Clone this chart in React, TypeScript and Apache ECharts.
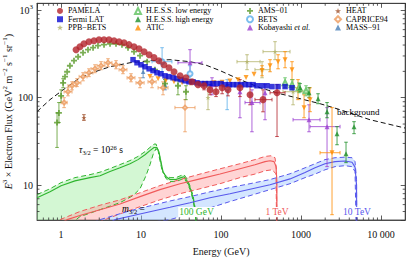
import React, { useEffect, useRef } from "react";
import * as echarts from "echarts";

const SERIF = '"Liberation Serif", "Times New Roman", serif';

const xMin = 0.5, xMax = 20000, yMin = 4, yMax = 1200;
const xMinorTicks = [0.6,0.7,0.8,0.9,2,3,4,5,6,7,8,9,20,30,40,50,60,70,80,90,200,300,400,500,600,700,800,900,2000,3000,4000,5000,6000,7000,8000,9000];
const yMinorTicks = [5,6,7,8,9,20,30,40,50,60,70,80,90,200,300,400,500,600,700,800,900];

// rows: [E, F] or [E, F, Flo, Fhi] or [E, F, Flo, Fhi, Elo, Ehi]
const pamela = [[1.54,354],[1.72,383],[1.93,414],[2.23,437],[2.58,448],[2.98,460],[3.44,460],[3.97,460],[4.59,448],[5.30,437],[6.12,425],[7.06,404],[8.16,383],[9.42,363],[10.9,336],[12.6,310],[14.5,287],[16.7,265],[19.3,238],[22.3,220],[25.8,198],[30.7,178],[36.4,169],[43.3,152],[51.5,141],[61.2,137,123,152],[72.7,123,108,141],[86.4,117,103,134],[103,130,111,148],[122,123,105,141],[172,130,103,161],[230,108,83,134],[334,95,69,123,265,433],[500,114,36,141,409,630]];
const fermi = [[7.93,272],[8.89,251],[9.98,238],[11.2,226],[12.6,214],[14.1,204],[15.8,193],[17.7,188],[19.9,178],[22.3,174],[25.1,169],[28.1,165],[31.6,161],[35.4,156],[39.7,152],[44.6,152],[50.0,148],[56.1,145],[63,145],[70.6,145],[79.3,145],[88.9,145],[99.8,145],[112,141],[126,141],[141,141],[158,141],[177,141],[199,141],[223,141],[251,141],[281,137],[325,137],[375,137],[433,134],[515,134],[630,134],[770,130]];
const ppbBets = [[68.6,100,73,134],[211,258,209,310,158,307],[325,209,169,258,265,409],[472,336,272,437,334,727],[793,117,83,161,594,1057]];
const hessLow = [[630,148,130,169],[770,141,123,161],[942,130,114,148],[1152,120,105,137]];
const hessHigh = [[970,130,117,145],[1256,114,100,130],[1628,97.5,85.4,111],[2109,69.2,59,88],[2812,38.8,29,46.7],[3643,22.9,18.1,31],[4587,46.7,38.8,53.2]];
const atic = [[12.9,175],[16.3,165],[20.5,158],[25.8,152],[32.5,148],[40.9,145],[51.5,145],[64.8,145],[81.5,148],[103,150],[129,155],[163,160],[205,170],[258,185],[325,204,178,232],[409,232,198,272],[515,258,214,310],[630,272,220,336],[770,209,161,258],[915,123,95,161],[1088,77,59,108],[1293,95,69.2,130],[2435,23.5,4.6,77,1724,3066]];
const ams01 = [[0.89,52,27,67],[0.94,67,52,88],[1.0,105,88,123],[1.06,148,130,165],[1.12,174],[1.19,198],[1.29,232],[1.45,265],[1.63,294],[1.88,327],[2.17,354],[2.51,373],[2.89,393],[3.44,404],[4.09,414],[4.86,414],[5.77,404],[6.86,373],[8.16,336],[9.70,302],[11.9,258],[14.9,209],[19.9,145,130,161],[28.9,137,108,161],[36.4,117,95,137]];
const bets = [[18.3,258,198,373,13.7,24.3],[40.9,188,152,232],[119,130,73,161]];
const kobayashi = [[40.9,251,183,354,28.9,57.7],[77,141,108,169],[172,117,59,145],[243,88,40.8,123,199,307],[354,114,56,141],[1256,56,40.8,83,793,1724],[2109,46.7,16.3,77,1293,3066]];
const heat = [[1.93,59,55,64]];
const caprice94 = [[1.09,88,77,100,1.0,1.19],[1.22,117,105,130,1.09,1.37],[1.37,137,123,152,1.22,1.54],[1.58,148,134,165,1.41,1.77],[1.88,174,156,193,1.68,2.11],[2.23,193,174,214,1.99,2.50],[2.65,214,193,238,2.37,2.97],[3.16,232,209,258,2.82,3.54],[3.86,251,226,279,3.45,4.32],[4.86,238,214,265,4.34,5.44],[5.94,209,188,232,5.30,6.65],[7.48,169,152,188,6.68,8.38],[9.70,148,130,169,8.64,10.9],[13.7,152,130,174,12.2,15.4],[18.8,130,108,152,16.3,21.7],[35.4,77,40.8,95,26.5,47.2]];
const mass91 = [[10.6,198,169,232],[19.9,141,123,161]];

const background = [[0.5,69.2],[0.727,95],[1.06,123],[1.72,169],[2.65,198],[4.09,226],[7.27,251],[12.9,265],[23.0,272],[40.9,258],[63,238],[97,204],[172,161],[307,130],[545,111],[970,97.5],[1724,85.4],[3066,73],[7270,56],[19900,45]];

// gravitino decay spectra, m = 100 GeV, 1 TeV, 10 TeV
const greenSolid = [[0.5,7.2],[0.727,8.43],[1.0,9.87],[1.49,11.2],[2.30,12.2],[3.07,12.8],[4.09,14.3],[5.45,15.8],[7.27,17.6],[9.15,19.6],[11.2,22.3],[12.9,24.8],[14.5,27],[15.8,27],[16.7,24.2],[17.7,18.6],[18.8,14.3],[20.5,12.5],[23.0,11.6],[27.3,11.6],[31.6,12.2],[34.4,12.5],[37.5,11.2],[40.9,9.36],[44.6,7.2],[47.2,5.25],[48.6,3.83],[49.6,1]];
const greenUpper = [[0.5,7.8],[0.727,9.1],[1.0,10.7],[1.49,12.2],[2.30,13.2],[3.07,14.1],[4.09,15.5],[5.45,17.2],[7.27,19.1],[9.15,21.3],[11.2,24.2],[12.9,27],[14.5,29.5],[15.4,29.5],[16.3,25],[17.2,19],[18.3,14.8],[19.9,13.0],[23.0,12.2],[27.3,12.2],[31.6,12.9],[34.4,13.2],[37.5,11.8],[40.9,9.8],[44.6,7.6],[47.2,5.6],[48.6,4.2],[49.6,1]];
const greenLower = [[0.5,2.0],[1.0,2.9],[1.29,3.54],[1.72,4.37],[3.07,5.25],[5.45,6.31],[7.93,7.6],[9.70,9.1],[11.5,12.8],[12.9,17.1],[14.1,22.3],[15.4,26.3],[16.7,23.6],[17.7,18.1],[18.8,13.9],[20.5,11.9],[23.0,11.0],[27.3,11.0],[31.6,11.6],[34.4,11.9],[37.5,10.7],[40.9,8.9],[44.6,6.8],[47.2,4.98],[48.6,3.83],[49.6,1]];
const redSolid = [[1.0,3.7],[1.19,4.04],[1.72,4.5],[3.07,5.25],[5.45,6.1],[9.7,7.4],[17.2,8.9],[30.7,10.4],[54.5,11.8],[97,13.4],[172,15.4],[265,17.1],[354,18.6],[409,19.0],[459,18.6],[486,16.3],[498,11],[500,1]];
const redUpper = [[0.8,3.6],[0.97,4.04],[1.72,5.0],[3.07,5.9],[5.45,6.8],[9.7,8.2],[17.2,9.9],[30.7,11.6],[54.5,13.4],[97,15.4],[172,17.6],[265,19.6],[354,21.3],[421,21.7],[472,20.6],[493,15],[500,1]];
const redLower = [[1.0,2.5],[3.07,3.83],[5.45,4.7],[9.7,5.68],[17.2,6.8],[30.7,8.0],[54.5,9.1],[97,10.4],[172,12.2],[265,13.4],[354,14.6],[433,15.0],[486,13.5],[500,1]];
const blueSolid = [[4.0,3.7],[4.72,4.04],[7.27,4.42],[12.9,4.98],[23.0,5.6],[40.9,6.3],[72.7,7.2],[129,8.0],[230,9.0],[409,10.1],[727,11.8],[1120,14.0],[1493,15.8],[1990,17.6],[2655,18.6],[3540,18.9],[4330,18.3],[4720,16.1],[4930,10.1],[5000,1]];
const blueUpper = [[2.5,3.7],[3.07,4.04],[7.27,5.1],[12.9,5.8],[23.0,6.6],[40.9,7.4],[72.7,8.4],[129,9.4],[230,10.4],[409,11.6],[727,13.5],[1120,15.8],[1493,17.6],[1990,19.6],[2655,20.6],[3540,20.9],[4330,20.6],[4720,18.6],[4930,11.6],[5000,1]];
const blueLower = [[3.07,3.1],[23.0,4.04],[40.9,4.7],[72.7,5.5],[129,6.5],[230,7.6],[409,8.9],[727,10.4],[1120,12.2],[1493,13.4],[1990,15.0],[2655,16.3],[3540,16.7],[4330,16.3],[4720,14.3],[5000,1]];

const STAR = "path://M0,-10L2.35,-3.24L9.51,-3.09L3.8,1.24L5.88,8.09L0,4L-5.88,8.09L-3.8,1.24L-9.51,-3.09L-2.35,-3.24Z";
const PLUS = "path://M-3,-10H3V-3H10V3H3V10H-3V3H-10V-3H-3Z";

const datasets = [
  { name: "MASS−91", rows: mass91, color: "#4a7fb8", symbol: "triangle", size: 4.5 },
  { name: "CAPRICE94", rows: caprice94, color: "#ec9a5c", symbol: "emptyDiamond", size: 4 },
  { name: "HEAT", rows: heat, color: "#a0522d", symbol: STAR, size: 5 },
  { name: "Kobayashi et al.", rows: kobayashi, color: "#9b3fd0", symbol: "triangle", size: 5 },
  { name: "BETS", rows: bets, color: "#5aaeea", symbol: "emptyCircle", size: 5 },
  { name: "PPB−BETS", rows: ppbBets, color: "#b3b36a", symbol: STAR, size: 5 },
  { name: "AMS−01", rows: ams01, color: "#5a9a2a", symbol: PLUS, size: 6 },
  { name: "ATIC", rows: atic, color: "#ff8c00", symbol: "triangle", size: 5, rotate: 180 },
  { name: "H.E.S.S. low energy", rows: hessLow, color: "#5cc05c", symbol: "emptyTriangle", size: 5 },
  { name: "H.E.S.S. high energy", rows: hessHigh, color: "#1f8f2a", symbol: "triangle", size: 5 },
  { name: "Fermi LAT", rows: fermi, color: "#0a0ad2", symbol: "rect", size: 5.5 },
  { name: "PAMELA", rows: pamela, color: "#b3232b", symbol: "circle", size: 7 },
];

function errorRender(color: string) {
  return (params: any, api: any) => {
    const x = api.value(0), y = api.value(1);
    const c = api.coord([x, y]);
    const lo = api.coord([x, api.value(2)]);
    const hi = api.coord([x, api.value(3)]);
    const l = api.coord([api.value(4), y]);
    const r = api.coord([api.value(5), y]);
    const st = { stroke: color, lineWidth: 0.8 };
    const cap = 1.8;
    const ch: any[] = [];
    if (Math.abs(lo[1] - hi[1]) > 1) {
      ch.push({ type: "line", shape: { x1: c[0], y1: lo[1], x2: c[0], y2: hi[1] }, style: st });
      ch.push({ type: "line", shape: { x1: c[0] - cap, y1: lo[1], x2: c[0] + cap, y2: lo[1] }, style: st });
      ch.push({ type: "line", shape: { x1: c[0] - cap, y1: hi[1], x2: c[0] + cap, y2: hi[1] }, style: st });
    }
    if (Math.abs(r[0] - l[0]) > 1) {
      ch.push({ type: "line", shape: { x1: l[0], y1: c[1], x2: r[0], y2: c[1] }, style: st });
      ch.push({ type: "line", shape: { x1: l[0], y1: c[1] - cap, x2: l[0], y2: c[1] + cap }, style: st });
      ch.push({ type: "line", shape: { x1: r[0], y1: c[1] - cap, x2: r[0], y2: c[1] + cap }, style: st });
    }
    return { type: "group", children: ch };
  };
}

function bandSeries(upper: number[][], lower: number[][], fill: string) {
  return {
    type: "custom", coordinateSystem: "cartesian2d", silent: true, z: 1, clip: true,
    data: [[upper[0][0], upper[0][1]]],
    renderItem: (params: any, api: any) => {
      const pts = upper.map((p) => api.coord(p)).concat(lower.slice().reverse().map((p) => api.coord(p)));
      return { type: "polygon", shape: { points: pts }, style: { fill } };
    },
  };
}

function lineSeries(data: number[][], color: string, dashed: boolean, width: number, z: number) {
  return {
    type: "line", data, showSymbol: false, symbol: "none", silent: true, z, clip: true,
    lineStyle: { color, width, type: dashed ? [5, 3] : "solid" },
  };
}

function buildOption(): any {
  const series: any[] = [];
  series.push(bandSeries(greenUpper, greenLower, "rgba(150,235,150,0.42)"));
  series.push(bandSeries(redUpper, redLower, "rgba(255,160,160,0.45)"));
  series.push(bandSeries(blueUpper, blueLower, "rgba(160,200,255,0.45)"));
  const G = "#2fb52f", R = "#f05a5a", B = "#5858ec";
  series.push(lineSeries(greenUpper, G, true, 1, 2));
  series.push(lineSeries(greenLower, G, true, 1, 2));
  series.push(lineSeries(greenSolid, G, false, 1.1, 2));
  series.push(lineSeries(redUpper, R, true, 1, 2));
  series.push(lineSeries(redLower, R, true, 1, 2));
  series.push(lineSeries(redSolid, R, false, 1.1, 2));
  series.push(lineSeries(blueUpper, B, true, 1, 2));
  series.push(lineSeries(blueLower, B, true, 1, 2));
  series.push(lineSeries(blueSolid, B, false, 1.1, 2));
  series.push(lineSeries(background, "#111", true, 1, 3));

  datasets.forEach((d, i) => {
    const errRows = d.rows.filter((r) => r.length > 2).map((r) => [r[0], r[1], r[2], r[3], r.length > 4 ? r[4] : r[0], r.length > 5 ? r[5] : r[0]]);
    if (errRows.length) {
      series.push({
        type: "custom", name: d.name + " errors", coordinateSystem: "cartesian2d", silent: true,
        z: 4, clip: true, data: errRows, renderItem: errorRender(d.color),
      });
    }
    series.push({
      type: "scatter", name: d.name, data: d.rows.map((r) => [r[0], r[1]]),
      symbol: d.symbol, symbolSize: d.size, symbolRotate: (d as any).rotate || 0,
      itemStyle: { color: d.color, borderColor: d.color, borderWidth: d.symbol.startsWith("empty") ? 1 : 0 },
      z: 5 + i * 0.01, clip: true, silent: true,
    });
  });

  const tickStyle = { stroke: "#333", lineWidth: 0.8 };
  series.push({
    type: "custom", coordinateSystem: "cartesian2d", silent: true, z: 10, clip: false,
    data: xMinorTicks.map((v) => [v, yMin]),
    renderItem: (params: any, api: any) => {
      const p = api.coord([api.value(0), api.value(1)]);
      const cs = params.coordSys;
      const b = cs.y + cs.height;
      return { type: "group", children: [
        { type: "line", shape: { x1: p[0], y1: b, x2: p[0], y2: b - 2.5 }, style: tickStyle },
        { type: "line", shape: { x1: p[0], y1: cs.y, x2: p[0], y2: cs.y + 2.5 }, style: tickStyle },
      ] };
    },
  });
  series.push({
    type: "custom", coordinateSystem: "cartesian2d", silent: true, z: 10, clip: false,
    data: yMinorTicks.map((v) => [xMin, v]),
    renderItem: (params: any, api: any) => {
      const p = api.coord([api.value(0), api.value(1)]);
      const cs = params.coordSys;
      const rr = cs.x + cs.width;
      return { type: "group", children: [
        { type: "line", shape: { x1: cs.x, y1: p[1], x2: cs.x + 2.5, y2: p[1] }, style: tickStyle },
        { type: "line", shape: { x1: rr, y1: p[1], x2: rr - 2.5, y2: p[1] }, style: tickStyle },
      ] };
    },
  });

  const axisLine = { show: true, lineStyle: { color: "#333", width: 0.8 } };
  const axisTick = { show: true, inside: true, length: 4.5, lineStyle: { color: "#333", width: 0.8 } };
  const legendBase = {
    orient: "vertical", itemWidth: 6, itemHeight: 6, itemGap: 0, padding: 0, selectedMode: false,
    textStyle: { fontFamily: SERIF, fontSize: 8, color: "#000", lineHeight: 8.3,
      rich: { i: { fontFamily: SERIF, fontSize: 8, fontStyle: "italic", color: "#000", lineHeight: 8.3 } } },
    formatter: (n: string) => (n === "Kobayashi et al." ? "Kobayashi {i|et al.}" : n),
  };
  const lblStyle = (color: string) => ({ fontFamily: SERIF, fontSize: 9.5, fill: color, align: "center", verticalAlign: "middle", backgroundColor: "#fff", padding: [0, 1] });
  const richSmall = {
    i: { fontFamily: SERIF, fontSize: 9.5, fontStyle: "italic", lineHeight: 12 },
    s: { fontFamily: SERIF, fontSize: 6.5, lineHeight: 6, verticalAlign: "bottom" },
    p: { fontFamily: SERIF, fontSize: 6.5, lineHeight: 6, verticalAlign: "top" },
  };

  return {
    animation: false,
    backgroundColor: "#fff",
    grid: { left: 37, right: 1.8, top: 3.3, bottom: 41, show: true, borderColor: "#333", borderWidth: 0.8, containLabel: false, outerBoundsMode: "none" },
    xAxis: [
      {
        type: "log", logBase: 10, min: xMin, max: xMax, position: "bottom", axisLine, axisTick,
        splitLine: { show: false },
        axisLabel: {
          fontFamily: SERIF, fontSize: 10, color: "#111", margin: 9, showMinLabel: false, showMaxLabel: false,
          formatter: (v: number) => { const r = Math.round(v); return r === 10000 ? "10 000" : String(r); },
        },
        name: "Energy (GeV)", nameLocation: "middle", nameGap: 25, nameMoveOverlap: false,
        nameTextStyle: { fontFamily: SERIF, fontSize: 10, color: "#111", lineHeight: 12 },
      },
      { type: "log", logBase: 10, min: xMin, max: xMax, position: "top", axisLine, axisTick, splitLine: { show: false }, axisLabel: { show: false } },
    ],
    yAxis: [
      {
        type: "log", logBase: 10, min: yMin, max: yMax, position: "left", axisLine, axisTick,
        splitLine: { show: false },
        axisLabel: {
          fontFamily: SERIF, fontSize: 10, color: "#111", margin: 4, showMinLabel: false, showMaxLabel: false,
          formatter: (v: number) => { const r = Math.round(v); return r === 1000 ? "{b|10}{s|3}" : String(r); },
          rich: { b: { fontFamily: SERIF, fontSize: 10, color: "#111", lineHeight: 14 }, s: { fontFamily: SERIF, fontSize: 7, color: "#111", lineHeight: 7, verticalAlign: "top" } },
        },
        name: "{i|E}{p|3} × Electron Flux (GeV{p|2} m{p|−2} s{p|−1} sr{p|−1})",
        nameLocation: "middle", nameGap: 22, nameMoveOverlap: false,
        nameTextStyle: {
          fontFamily: SERIF, fontSize: 10, color: "#111", lineHeight: 14,
          rich: {
            i: { fontFamily: SERIF, fontSize: 10, fontStyle: "italic", color: "#111", lineHeight: 14 },
            p: { fontFamily: SERIF, fontSize: 7, color: "#111", lineHeight: 7, verticalAlign: "top" },
          },
        },
      },
      { type: "log", logBase: 10, min: yMin, max: yMax, position: "right", axisLine, axisTick, splitLine: { show: false }, axisLabel: { show: false } },
    ],
    legend: [
      { ...legendBase, left: 57, top: 6.8, data: ["PAMELA", "Fermi LAT", "PPB−BETS"] },
      { ...legendBase, left: 134, top: 6.8, data: ["H.E.S.S. low energy", "H.E.S.S. high energy", "ATIC"] },
      { ...legendBase, left: 246, top: 6.8, data: ["AMS−01", "BETS", "Kobayashi et al."] },
      { ...legendBase, left: 334, top: 6.8, data: ["HEAT", "CAPRICE94", "MASS−91"] },
    ],
    graphic: [
      { type: "text", left: 337, top: 107.5, z: 20, style: { text: "background", fontFamily: SERIF, fontSize: 9, fill: "#000" } },
      { type: "text", left: 79, top: 144, z: 20, style: { text: "{i|τ}{s|3/2} = 10{p|26} s", fontFamily: SERIF, fontSize: 9.5, lineHeight: 12, fill: "#000", rich: richSmall } },
      { type: "text", left: 122, top: 203, z: 20, style: { text: "{i|m}{s|3/2} =", fontFamily: SERIF, fontSize: 9.5, lineHeight: 12, fill: "#000", rich: richSmall } },
      { type: "text", x: 196.5, y: 212, z: 20, style: { text: "100 GeV", ...lblStyle("#2fb52f") } },
      { type: "text", x: 277, y: 212, z: 20, style: { text: "1 TeV", ...lblStyle("#f05a5a") } },
      { type: "text", x: 357, y: 212, z: 20, style: { text: "10 TeV", ...lblStyle("#5858ec") } },
    ],
    series,
  };
}

export default function App() {
  const ref = useRef<HTMLDivElement>(null);
  useEffect(() => {
    const chart = echarts.init(ref.current as HTMLDivElement, null, { renderer: "svg" });
    chart.setOption(buildOption());
    return () => chart.dispose();
  }, []);
  return <div ref={ref} style={{ position: "fixed", left: 0, top: 0, width: 407, height: 261, background: "#fff" }} />;
}
